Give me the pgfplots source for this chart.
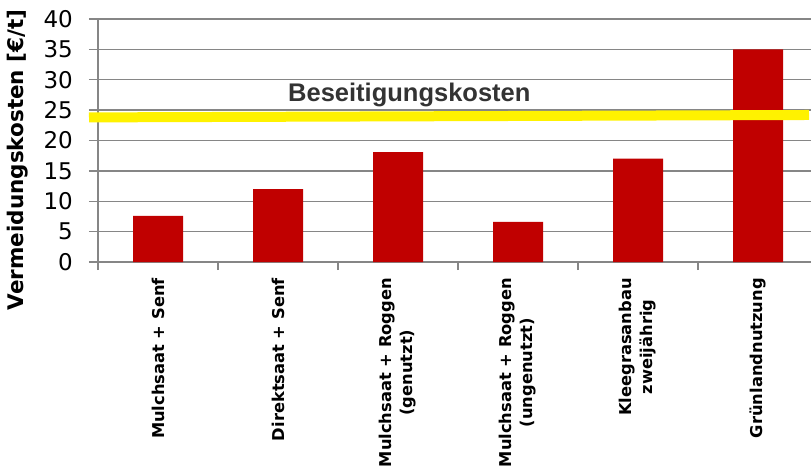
\documentclass[border=0pt]{standalone}
\usepackage{fontspec}
\setmainfont{DejaVu Sans}
\newfontfamily\arialfont{Liberation Sans}
\usepackage{pgfplots}
\pgfplotsset{compat=1.18}
\definecolor{barred}{HTML}{C00000}
\definecolor{gridgray}{HTML}{868686}
\definecolor{txtgray}{HTML}{333333}
\begin{document}
\begin{tikzpicture}[x=1pt,y=1pt]
\useasboundingbox (0,0) rectangle (811,474);
\begin{axis}[
  at={(98pt,212pt)}, anchor=south west,
  scale only axis, width=713pt, height=243pt,
  xmin=-0.5, xmax=5.4417, ymin=0, ymax=40,
  clip=false,
  axis x line*=bottom, axis y line*=left,
  axis line style={gridgray, line width=1.5pt, -},
  ytick={0,5,...,40},
  ymajorgrids, grid style={gridgray, line width=1.5pt},
  tick style={gridgray, line width=1.5pt},
  tick align=outside, major tick length=9pt, minor tick length=8pt,
  xtick={0,1,2,3,4,5},
  minor xtick={-0.5,0.5,1.5,2.5,3.5,4.5},
  major x tick style={draw=none},
  xticklabels={{Mulchsaat + Senf},{Direktsaat + Senf},{Mulchsaat + Roggen\\(genutzt)},{Mulchsaat + Roggen\\(ungenutzt)},{Kleegrasanbau\\zweijährig},{Grünlandnutzung}},
  xticklabel style={rotate=90, anchor=east, align=center, font=\bfseries\fontsize{16.3}{21}\selectfont, inner sep=0pt},
  xticklabel shift=7pt,
  yticklabel style={font=\fontsize{23}{26}\selectfont, anchor=east, inner sep=0pt},
  yticklabel shift=16pt,
  /pgf/number format/assume math mode=true,
  ylabel={Vermeidungskosten [€/t]},
  every axis y label/.style={at={(axis description cs:-0.1122,0.42)}, rotate=90, anchor=center, font=\bfseries\fontsize{21.5}{26}\selectfont},
]
\addplot[ybar, bar width=50pt, fill=barred, draw=none] coordinates {(0,7.6) (1,12.0) (2,18.1) (3,6.6) (4,17.0) (5,35.0)};
\addplot[color=yellow, line width=10pt, no marks] coordinates {(-0.575,23.8) (5.425,24.2)};
\node[anchor=base west, inner sep=0pt, text=txtgray, font=\arialfont\bfseries\fontsize{25.5}{28}\selectfont] at (axis cs:1.083,26.39) {Beseitigungskosten};
\end{axis}
\end{tikzpicture}
\end{document}
